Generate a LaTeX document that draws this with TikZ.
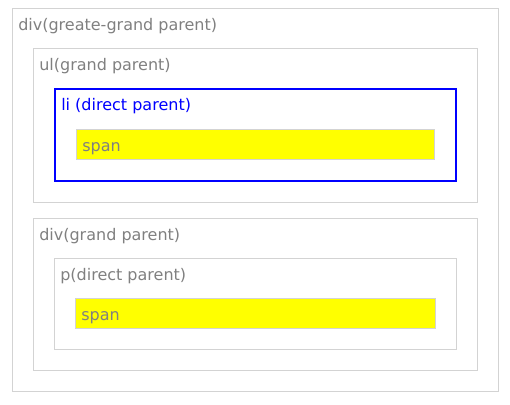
\documentclass[tikz,border=0pt]{standalone}
\usepackage{fontspec}
\setmainfont{DejaVu Sans}
\usetikzlibrary{positioning}

\definecolor{boxgray}{RGB}{211,211,211}
\definecolor{textgray}{RGB}{128,128,128}
\definecolor{spanyellow}{RGB}{255,255,0}

\tikzset{
	box/.style={draw=boxgray, line width=0.75pt},
	parentbox/.style={draw=blue, line width=1.5pt},
	spanbox/.style={draw=boxgray, line width=0.75pt, fill=spanyellow},
	tag/.style={anchor=base west, inner sep=0pt, text=textgray, font=\fontsize{12pt}{14pt}\selectfont}
}

\begin{document}
\begin{tikzpicture}[x=0.75pt, y=-0.75pt]
		\useasboundingbox (0,0) rectangle (510,404);
		% outer boxes
		\draw[box] (12.5,8.5) rectangle (498.5,391.5);
		\node[tag] (greatgrand) at (18,30) {div(greate-grand parent)};
		\foreach \t/\b/\n/\txt in {48.5/202.5/ul/ul(grand parent), 218.5/370.5/div/div(grand parent)} {
			\draw[box] (33.5,\t) rectangle (477.5,\b);
			\node[tag] (\n) at (39,\t+21.5) {\txt};
		}
		% direct parents
		\draw[parentbox] (55,89) rectangle (456,181);
		\node[tag, text=blue] (li) at (61,110) {li (direct parent)};
		\draw[box] (54.5,258.5) rectangle (456.5,349.5);
		\node[tag] (p) at (60,280) {p(direct parent)};
		% spans
		\foreach \l/\t/\r/\n in {76.5/129.5/434.5/spanone, 75.5/298.5/435.5/spantwo} {
			\draw[spanbox] (\l,\t) rectangle (\r,\t+30);
			\node[tag] (\n) at (\l+5.5,\t+21.5) {span};
		}
	\end{tikzpicture}
\end{document}
